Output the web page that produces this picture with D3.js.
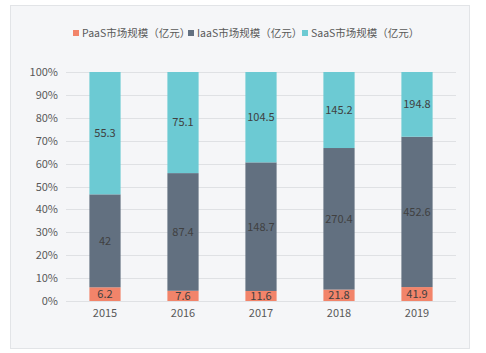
<!DOCTYPE html>
<html>
<head>
<meta charset="utf-8">
<script src="https://cdn.jsdelivr.net/npm/d3@7"></script>
<style>
  body { margin: 0; background: #fff; }
  svg text { font-family: "Noto Sans CJK SC", "Noto Sans", sans-serif; }
</style>
</head>
<body>
<div id="chart-area"></div>
<script>
var years = ["2015", "2016", "2017", "2018", "2019"];
var paas = [6.2, 7.6, 11.6, 21.8, 41.9];
var iaas = [42, 87.4, 148.7, 270.4, 452.6];
var saas = [55.3, 75.1, 104.5, 145.2, 194.8];
var seriesNames = ["PaaS市场规模（亿元）", "IaaS市场规模（亿元）", "SaaS市场规模（亿元）"];
var seriesColors = ["#f2846a", "#627080", "#6ccad3"];
var yTicks = [0, 0.1, 0.2, 0.3, 0.4, 0.5, 0.6, 0.7, 0.8, 0.9, 1];

var W = 486, H = 353;
var margin = { top: 72, right: 30, bottom: 52, left: 66 };
var width = W - margin.left - margin.right;
var height = H - margin.top - margin.bottom;

var svg = d3.select("#chart-area")
    .append("svg")
    .attr("width", W)
    .attr("height", H);

// panel
svg.append("rect")
    .attr("x", 10.5).attr("y", 5.5)
    .attr("width", 459).attr("height", 343)
    .attr("fill", "#f5f6f8")
    .attr("stroke", "#e2e4e7");

var g = svg.append("g")
    .attr("transform", "translate(" + margin.left + "," + margin.top + ")");

var data = years.map((y, i) => ({ year: y, PaaS: paas[i], IaaS: iaas[i], SaaS: saas[i] }));
var keys = ["PaaS", "IaaS", "SaaS"];

var stack = d3.stack().keys(keys).offset(d3.stackOffsetExpand);
var layers = stack(data);

var x = d3.scaleBand().domain(years).range([0, width]).paddingInner(0.6).paddingOuter(0.3);
var y = d3.scaleLinear().domain([0, 1]).range([height, 0]);

// gridlines
g.selectAll(".grid")
    .data(yTicks)
    .enter().append("line")
    .attr("x1", 0).attr("x2", width)
    .attr("y1", d => Math.round(y(d)) + 0.5)
    .attr("y2", d => Math.round(y(d)) + 0.5)
    .attr("stroke", "#dfe1e4")
    .attr("stroke-width", 1);

var yAxis = g.append("g")
    .call(d3.axisLeft(y).tickValues(yTicks).tickFormat(d3.format(".0%")).tickSize(0).tickPadding(8));
yAxis.select(".domain").remove();
yAxis.selectAll("text").attr("fill", "#595959").attr("font-size", "11px");

var xAxis = g.append("g")
    .attr("transform", "translate(0," + height + ")")
    .call(d3.axisBottom(x).tickSize(0).tickPadding(8));
xAxis.select(".domain").remove();
xAxis.selectAll("text").attr("fill", "#595959").attr("font-size", "11px");

var layerG = g.selectAll(".layer")
    .data(layers)
    .enter().append("g")
    .attr("fill", (d, i) => seriesColors[i]);

layerG.selectAll("rect")
    .data(d => d)
    .enter().append("rect")
    .attr("x", d => x(d.data.year))
    .attr("y", d => y(d[1]))
    .attr("width", x.bandwidth())
    .attr("height", d => y(d[0]) - y(d[1]));

layerG.selectAll("text")
    .data((d, i) => d.map(p => ({ p: p, key: keys[i] })))
    .enter().append("text")
    .attr("x", d => x(d.p.data.year) + x.bandwidth() / 2)
    .attr("y", d => (y(d.p[0]) + y(d.p[1])) / 2)
    .attr("dy", "0.35em")
    .attr("text-anchor", "middle")
    .attr("font-size", "11px")
    .attr("fill", "#404040")
    .text(d => d.p.data[d.key]);

// legend
var legendX = [73, 188, 302];
var legend = svg.append("g");
seriesNames.forEach((name, i) => {
    legend.append("rect")
        .attr("x", legendX[i]).attr("y", 30)
        .attr("width", 6).attr("height", 6)
        .attr("fill", seriesColors[i]);
    legend.append("text")
        .attr("x", legendX[i] + 9).attr("y", 33)
        .attr("dy", "0.35em")
        .attr("font-size", "10.5px")
        .attr("fill", "#595959")
        .text(name);
});
</script>
</body>
</html>
